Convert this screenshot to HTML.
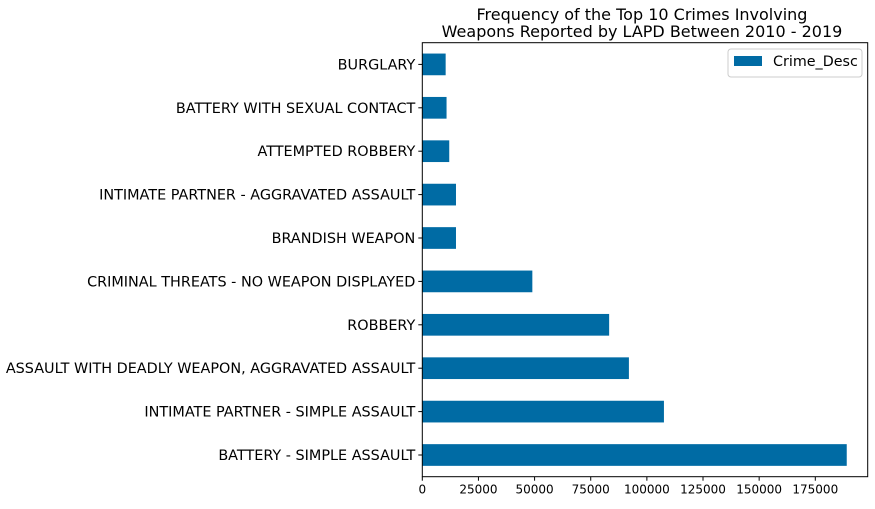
<!DOCTYPE html>
<html><head><meta charset="utf-8"><style>
body{margin:0;background:#fff;}
text{font-family:"DejaVu Sans","Liberation Sans",sans-serif;fill:#000;}
</style></head><body>
<svg id="chart" width="875" height="504" xmlns="http://www.w3.org/2000/svg">
<text x="642" y="20" font-size="16" text-anchor="middle">Frequency of the Top 10 Crimes Involving</text>
<text x="642" y="37" font-size="16" text-anchor="middle">Weapons Reported by LAPD Between 2010 - 2019</text>
<g id="bars"></g>
<g id="yticks"></g>
<g id="xticks"></g>
<rect x="422.3" y="42.7" width="445.4" height="434" fill="none" stroke="#000" stroke-width="1"/>
<g>
<rect x="728" y="49" width="134" height="28" rx="3" fill="#fff" stroke="#ccc"/>
<rect x="734" y="56" width="28" height="10" fill="#006ba4"/>
<text x="773" y="66" font-size="14.3">Crime_Desc</text>
</g>
</svg>
<script>
const categories=["BATTERY - SIMPLE ASSAULT","INTIMATE PARTNER - SIMPLE ASSAULT","ASSAULT WITH DEADLY WEAPON, AGGRAVATED ASSAULT","ROBBERY","CRIMINAL THREATS - NO WEAPON DISPLAYED","BRANDISH WEAPON","INTIMATE PARTNER - AGGRAVATED ASSAULT","ATTEMPTED ROBBERY","BATTERY WITH SEXUAL CONTACT","BURGLARY"];
const values=[189000,107600,92000,83200,49000,15000,15000,12000,10800,10400];
const xTicks=[0,25000,50000,75000,100000,125000,150000,175000];
const NS="http://www.w3.org/2000/svg";
const L=422.3,T=42.7,B=476.7,W=445.4;
const xs=v=>L+v*(393/175000);
const band=(B-T)/categories.length;
const yc=i=>B-band*(i+0.5);
const bars=document.getElementById('bars'),yt=document.getElementById('yticks'),xt=document.getElementById('xticks');
categories.forEach((c,i)=>{
 const r=document.createElementNS(NS,'rect');
 r.setAttribute('x',L);r.setAttribute('y',yc(i)-band/4);
 r.setAttribute('width',xs(values[i])-L);r.setAttribute('height',band/2);
 r.setAttribute('fill','#006ba4');
 
 
 bars.appendChild(r);
 const ln=document.createElementNS(NS,'line');
 ln.setAttribute('x1',L-4);ln.setAttribute('x2',L);ln.setAttribute('y1',yc(i));ln.setAttribute('y2',yc(i));ln.setAttribute('stroke','#000');
 
 
 yt.appendChild(ln);
 const t=document.createElementNS(NS,'text');
 t.setAttribute('x',L-7);t.setAttribute('y',yc(i)+5);t.setAttribute('font-size','14.4');t.setAttribute('text-anchor','end');
 t.textContent=c;
 
 
 yt.appendChild(t);
});
xTicks.forEach(v=>{
 const ln=document.createElementNS(NS,'line');
 ln.setAttribute('x1',xs(v));ln.setAttribute('x2',xs(v));ln.setAttribute('y1',B);ln.setAttribute('y2',B+4);ln.setAttribute('stroke','#000');
 
 
 xt.appendChild(ln);
 const t=document.createElementNS(NS,'text');
 t.setAttribute('x',xs(v));t.setAttribute('y',B+17);t.setAttribute('font-size','12');t.setAttribute('text-anchor','middle');
 t.textContent=v;
 
 
 xt.appendChild(t);
});
</script>
</body></html>
